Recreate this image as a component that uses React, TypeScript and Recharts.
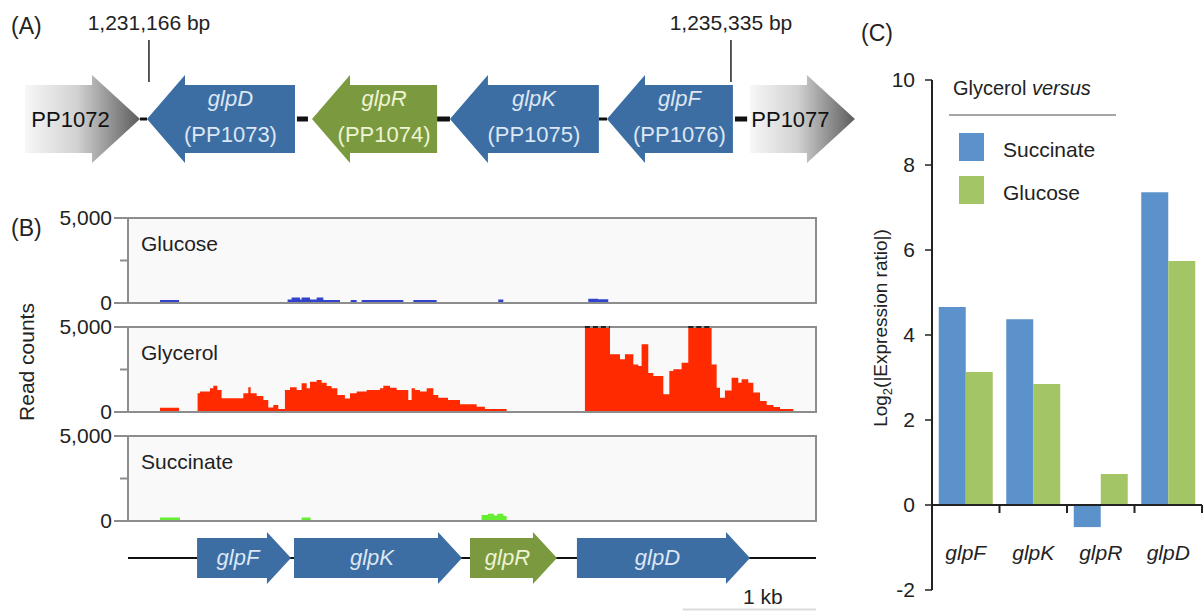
import React from 'react';
import {
  ComposedChart,
  AreaChart,
  Area,
  BarChart,
  Bar,
  XAxis,
  YAxis,
  ReferenceArea,
  ReferenceLine,
  CartesianGrid,
} from 'recharts';

const FONT = '"Liberation Sans", Arial, Helvetica, sans-serif';
const GENE_BLUE = '#3c6ea4';
const GENE_GREEN = '#7b9a3f';
const TEXT_ON_BLUE = '#dde7f3';
const TEXT_ON_GREEN = '#eef4d4';

// ---------- Panel A : operon map (genome coordinates, bp) ----------
const operonGenes = [
  { name: 'PP1072', locus: '', start: 1230278, end: 1231102, dir: 1, kind: 'flank' },
  { name: 'glpD', locus: '(PP1073)', start: 1231152, end: 1232212, dir: -1, kind: 'blue' },
  { name: 'glpR', locus: '(PP1074)', start: 1232334, end: 1233230, dir: -1, kind: 'green' },
  { name: 'glpK', locus: '(PP1075)', start: 1233322, end: 1234389, dir: -1, kind: 'blue' },
  { name: 'glpF', locus: '(PP1076)', start: 1234447, end: 1235349, dir: -1, kind: 'blue' },
  { name: 'PP1077', locus: '', start: 1235471, end: 1236223, dir: 1, kind: 'flank' },
];
const operonSpacers: [number, number][] = [
  [1231102, 1231152],
  [1232226, 1232305],
  [1233230, 1233322],
  [1234389, 1234447],
  [1235364, 1235451],
];
const boundaryMarks = [1231166, 1235335];
const mapDomain: [number, number] = [1230099, 1236331];

// ---------- Panel B : RNA-seq read coverage ([position bp, read count]) ----------
const trackDomain: [number, number] = [0, 5160];
const glucoseReads: [number, number][] = [
  [0, 0], [240, 180], [383, 0], [1197, 200], [1227, 330], [1290, 200], [1302, 330], [1365, 200],
  [1415, 330], [1465, 180], [1590, 0], [1670, 180], [1715, 0], [1752, 180], [2065, 0],
  [2140, 180], [2315, 0], [2777, 200], [2815, 0], [3452, 250], [3525, 220], [3602, 0], [5160, 0],
];
const glycerolReads: [number, number][] = [
  [0, 0], [240, 250], [383, 0], [522, 1100], [540, 1200], [615, 1400], [640, 1550], [670, 1290],
  [702, 810], [865, 1100], [902, 1450], [920, 1100], [965, 940], [1015, 700], [1052, 270],
  [1090, 410], [1127, 180], [1177, 1290], [1215, 1450], [1265, 1290], [1302, 1690], [1340, 1390],
  [1365, 1780], [1415, 1880], [1452, 1720], [1490, 1530], [1527, 1390], [1570, 1000], [1627, 800],
  [1665, 1100], [1715, 1200], [1790, 1290], [1890, 1390], [1915, 1550], [1965, 1430], [2015, 1290],
  [2102, 700], [2127, 1390], [2152, 1290], [2190, 1200], [2240, 1390], [2290, 1000], [2327, 840],
  [2400, 700], [2490, 450], [2615, 310], [2677, 180], [2840, 0], [3427, 6000], [3615, 3390],
  [3690, 3100], [3727, 3390], [3790, 2800], [3827, 2700], [3852, 3980], [3902, 2300], [3940, 2120],
  [4015, 1040], [4060, 2410], [4090, 2510], [4152, 2900], [4202, 6000], [4377, 2800], [4415, 1430],
  [4440, 840], [4477, 1270], [4527, 2020], [4577, 1720], [4602, 1920], [4652, 1720], [4690, 1140],
  [4740, 650], [4790, 410], [4840, 290], [4890, 180], [4990, 0], [5160, 0],
];
const succinateReads: [number, number][] = [
  [0, 0], [240, 200], [390, 0], [1302, 200], [1370, 0], [2652, 350], [2700, 430], [2745, 330],
  [2770, 430], [2815, 300], [2840, 0], [5160, 0],
];
const readMax = 5000;
const readTicks = [0, 2500, 5000];
const trackGenes = [
  { name: 'glpF', start: 518, end: 1222, kind: 'blue' },
  { name: 'glpK', start: 1245, end: 2505, kind: 'blue' },
  { name: 'glpR', start: 2565, end: 3217, kind: 'green' },
  { name: 'glpD', start: 3367, end: 4665, kind: 'blue' },
];
const scaleBar: [number, number] = [4160, 5160];

// ---------- Panel C : expression ratios ----------
const genesC = ['glpF', 'glpK', 'glpR', 'glpD'];
const vsSuccinate = [4.66, 4.37, -0.52, 7.36];
const vsGlucose = [3.13, 2.85, 0.73, 5.74];
const ratioTicks = [-2, 0, 2, 4, 6, 8, 10];
const seriesC = [
  { key: 'succinate', label: 'Succinate', color: '#5b92cb' },
  { key: 'glucose', label: 'Glucose', color: '#a4c566' },
];
const ratioData = genesC.map((g, i) => ({ gene: g, succinate: vsSuccinate[i], glucose: vsGlucose[i] }));

const toRows = (arr: [number, number][]) => arr.map(([pos, reads]) => ({ pos, reads }));
const clippedSpans = (arr: [number, number][]) => {
  const out: [number, number][] = [];
  for (let i = 0; i < arr.length - 1; i++) if (arr[i][1] > readMax) out.push([arr[i][0], arr[i + 1][0]]);
  return out;
};

// ---------- shapes ----------
function arrowPath(x: number, y: number, w: number, h: number, dir: number, head: number, flare: number) {
  const hl = Math.min(head, w * 0.6);
  if (dir > 0) {
    const xb = x + w - hl;
    return `M${x},${y} L${xb},${y} L${xb},${y - flare} L${x + w},${y + h / 2} L${xb},${y + h + flare} L${xb},${y + h} L${x},${y + h} Z`;
  }
  const xb = x + hl;
  return `M${x + w},${y} L${xb},${y} L${xb},${y - flare} L${x},${y + h / 2} L${xb},${y + h + flare} L${xb},${y + h} L${x + w},${y + h} Z`;
}

const MapArrow = (p: any) => {
  const { x, y, width, height, gene } = p;
  const flank = gene.kind === 'flank';
  const head = flank ? 48 : 38;
  const fill = flank ? `url(#grad-${gene.name})` : gene.kind === 'green' ? GENE_GREEN : GENE_BLUE;
  const tc = gene.kind === 'green' ? TEXT_ON_GREEN : TEXT_ON_BLUE;
  const cx = x + width / 2 - (gene.dir * head) / 4;
  return (
    <g>
      {flank && (
        <defs>
          <linearGradient id={`grad-${gene.name}`} x1="0" x2="1" y1="0" y2="0">
            <stop offset="0%" stopColor="#f7f7f7" />
            <stop offset="45%" stopColor="#d2d2d2" />
            <stop offset="100%" stopColor="#5c5c5c" />
          </linearGradient>
        </defs>
      )}
      <path d={arrowPath(x, y, width, height, gene.dir, head, 10)} fill={fill} />
      {flank ? (
        <text x={cx} y={y + height / 2 + 8} textAnchor="middle" fontSize={22} fill="#111">{gene.name}</text>
      ) : (
        <>
          <text x={cx} y={y + 21} textAnchor="middle" fontSize={22} fontStyle="italic" fill={tc}>{gene.name}</text>
          <text x={cx} y={y + 57} textAnchor="middle" fontSize={22} fill={tc}>{gene.locus}</text>
        </>
      )}
    </g>
  );
};

const Spacer = (p: any) => {
  const { x, y, width, height } = p;
  const h = width < 10 ? 3 : height;
  return <rect x={x} y={y + (height - h) / 2} width={width} height={h} fill="#111" />;
};

const Backbone = (p: any) => {
  const { x, y, width, height } = p;
  return <rect x={x} y={y} width={width} height={height} fill="#111" />;
};

const TrackArrow = (p: any) => {
  const { x, y, width, height, gene } = p;
  const fill = gene.kind === 'green' ? GENE_GREEN : GENE_BLUE;
  const tc = gene.kind === 'green' ? TEXT_ON_GREEN : TEXT_ON_BLUE;
  const head = 24;
  return (
    <g>
      <path d={arrowPath(x, y, width, height, 1, head, 6)} fill={fill} />
      <text x={x + width / 2 - head / 4} y={y + height / 2 + 7} textAnchor="middle" fontSize={22} fontStyle="italic" fill={tc}>
        {gene.name}
      </text>
    </g>
  );
};

const TrackTick = (props: any) => {
  const { x, y, payload } = props;
  const major = payload.value !== 2500;
  return (
    <g>
      <line x1={x - (major ? 14 : 8)} x2={x} y1={y} y2={y} stroke="#8d8d8d" strokeWidth={2} />
      {major && (
        <text x={x - 16} y={y + 7} textAnchor="end" fontSize={21} fill="#222">
          {payload.value.toLocaleString('en-US')}
        </text>
      )}
    </g>
  );
};

const GeneTickC = (props: any) => {
  const { x, y, payload } = props;
  const band = 270 / genesC.length;
  return (
    <g>
      <text x={x} y={y - 30} textAnchor="middle" fontSize={21} fontStyle="italic" fill="#222">{payload.value}</text>
      <line x1={x + band / 2} x2={x + band / 2} y1={y - 85} y2={y - 77} stroke="#222" strokeWidth={2} />
    </g>
  );
};

// ---------- panels ----------
const OperonMap = () => (
  <ComposedChart width={870} height={200} margin={{ top: 0, right: 0, bottom: 0, left: 0 }} data={[{ x: mapDomain[0] }]}>
    <XAxis type="number" dataKey="x" domain={mapDomain} hide allowDataOverflow />
    <YAxis type="number" domain={[0, 10]} hide allowDataOverflow />
    {operonSpacers.map(([s, e], i) => (
      <ReferenceArea key={'sp' + i} x1={s} x2={e} y1={3.925} y2={4.175} ifOverflow="visible" shape={(p: any) => <Spacer {...p} />} />
    ))}
    {operonGenes.map((g) => (
      <ReferenceArea key={g.name} x1={g.start} x2={g.end} y1={2.35} y2={5.75} ifOverflow="visible" shape={(p: any) => <MapArrow {...p} gene={g} />} />
    ))}
    {boundaryMarks.map((m) => (
      <ReferenceLine
        key={m}
        segment={[{ x: m, y: 5.9 }, { x: m, y: 8 }]}
        stroke="#222"
        strokeWidth={1.5}
        ifOverflow="visible"
        label={{ value: `${m.toLocaleString('en-US')} bp`, position: 'top', offset: 10, fontSize: 21, fill: '#222' }}
      />
    ))}
  </ComposedChart>
);

const Track = ({ top, reads, color }: { top: number; reads: [number, number][]; color: string }) => (
  <div style={{ position: 'absolute', left: 0, top }}>
    <AreaChart width={830} height={115} data={toRows(reads)} margin={{ top: 20, right: 14, bottom: 10, left: 0 }}>
      <CartesianGrid horizontal={false} vertical={false} fill="#f9f9f9" />
      <XAxis type="number" dataKey="pos" domain={trackDomain} hide allowDataOverflow />
      <YAxis
        type="number"
        domain={[0, readMax]}
        ticks={readTicks}
        interval={0}
        width={128}
        allowDataOverflow
        axisLine={false}
        tickLine={false}
        tickSize={0}
        tickMargin={0}
        tick={<TrackTick />}
      />
      <Area type="stepAfter" dataKey="reads" fill={color} fillOpacity={1} stroke="none" isAnimationActive={false} />
      <ReferenceArea x1={trackDomain[0]} x2={trackDomain[1]} y1={0} y2={readMax} fill="none" stroke="#8d8d8d" strokeWidth={2} ifOverflow="visible" />
      {clippedSpans(reads).map(([a, b]) => (
        <ReferenceLine key={a} segment={[{ x: a, y: readMax }, { x: b, y: readMax }]} stroke="#222" strokeWidth={2} strokeDasharray="5 3" ifOverflow="visible" />
      ))}
    </AreaChart>
  </div>
);

const GeneTrack = () => (
  <ComposedChart width={830} height={92} margin={{ top: 0, right: 14, bottom: 0, left: 128 }} data={[{ x: 0 }]}>
    <XAxis type="number" dataKey="x" domain={trackDomain} hide allowDataOverflow />
    <YAxis type="number" domain={[0, 11.5]} hide allowDataOverflow />
    <ReferenceArea x1={trackDomain[0]} x2={trackDomain[1]} y1={6.625} y2={6.875} ifOverflow="visible" shape={(p: any) => <Backbone {...p} />} />
    {trackGenes.map((g) => (
      <ReferenceArea key={g.name} x1={g.start} x2={g.end} y1={4.25} y2={9.25} ifOverflow="visible" shape={(p: any) => <TrackArrow {...p} gene={g} />} />
    ))}
    <ReferenceArea x1={scaleBar[0]} x2={scaleBar[1]} y1={0.2} y2={0.45} ifOverflow="visible" fill="#dcdcdc" fillOpacity={1} stroke="none" />
  </ComposedChart>
);

const RatioChart = () => (
  <BarChart width={363} height={552} data={ratioData} margin={{ top: 20, right: 1, bottom: 0, left: 0 }} barCategoryGap="10%" barGap={0}>
    <XAxis dataKey="gene" height={22} axisLine={false} tickLine={false} tickSize={0} tickMargin={0} tick={<GeneTickC />} interval={0} />
    <YAxis
      domain={[-2, 10]}
      ticks={ratioTicks}
      interval={0}
      width={92}
      axisLine={{ stroke: '#222', strokeWidth: 2 }}
      tickLine={{ stroke: '#222', strokeWidth: 1.5 }}
      tickSize={7}
      tickMargin={10}
      tick={{ fill: '#222', fontSize: 21 }}
    />
    {seriesC.map((s) => (
      <Bar key={s.key} dataKey={s.key} fill={s.color} isAnimationActive={false} />
    ))}
    <ReferenceLine y={0} stroke="#222" strokeWidth={2} />
  </BarChart>
);

const Overlay = () => (
  <svg width={1203} height={612} style={{ position: 'absolute', left: 0, top: 0, pointerEvents: 'none' }} fontFamily={FONT}>
    <text x={11} y={34} fontSize={23} fill="#222">(A)</text>
    <text x={11} y={236} fontSize={23} fill="#222">(B)</text>
    <text x={861} y={41} fontSize={23} fill="#222">(C)</text>
    <text transform="translate(34,362) rotate(-90)" textAnchor="middle" fontSize={21} fill="#222">Read counts</text>
    <text x={141} y={251} fontSize={21} fill="#222">Glucose</text>
    <text x={141} y={360} fontSize={21} fill="#222">Glycerol</text>
    <text x={141} y={469} fontSize={21} fill="#222">Succinate</text>
    <text x={743} y={604} fontSize={21} fill="#222">1 kb</text>
    <text transform="translate(887,328) rotate(-90)" textAnchor="middle" fontSize={19} fill="#222">
      <tspan>Log</tspan>
      <tspan dy={5} fontSize={13}>2</tspan>
      <tspan dy={-5}>(|Expression ratio|)</tspan>
    </text>
    <text x={953} y={95} fontSize={20} fill="#222">
      Glycerol <tspan fontStyle="italic">versus</tspan>
    </text>
    <line x1={949} x2={1116} y1={115} y2={115} stroke="#888" strokeWidth={1.5} />
    {seriesC.map((s, i) => (
      <g key={s.key}>
        <rect x={959} y={133 + i * 43} width={25} height={28} fill={s.color} />
        <text x={1003} y={157 + i * 43} fontSize={21} fill="#222">{s.label}</text>
      </g>
    ))}
  </svg>
);

export default function App() {
  return (
    <div style={{ position: 'absolute', left: 0, top: 0, width: 1203, height: 612, background: '#fff', overflow: 'hidden', fontFamily: FONT }}>
      <div style={{ position: 'absolute', left: 0, top: 0 }}>
        <OperonMap />
      </div>
      <Track top={198} reads={glucoseReads} color="#3344cc" />
      <Track top={307} reads={glycerolReads} color="#ff2a00" />
      <Track top={416} reads={succinateReads} color="#66ee33" />
      <div style={{ position: 'absolute', left: 0, top: 520 }}>
        <GeneTrack />
      </div>
      <div style={{ position: 'absolute', left: 840, top: 60 }}>
        <RatioChart />
      </div>
      <Overlay />
    </div>
  );
}
